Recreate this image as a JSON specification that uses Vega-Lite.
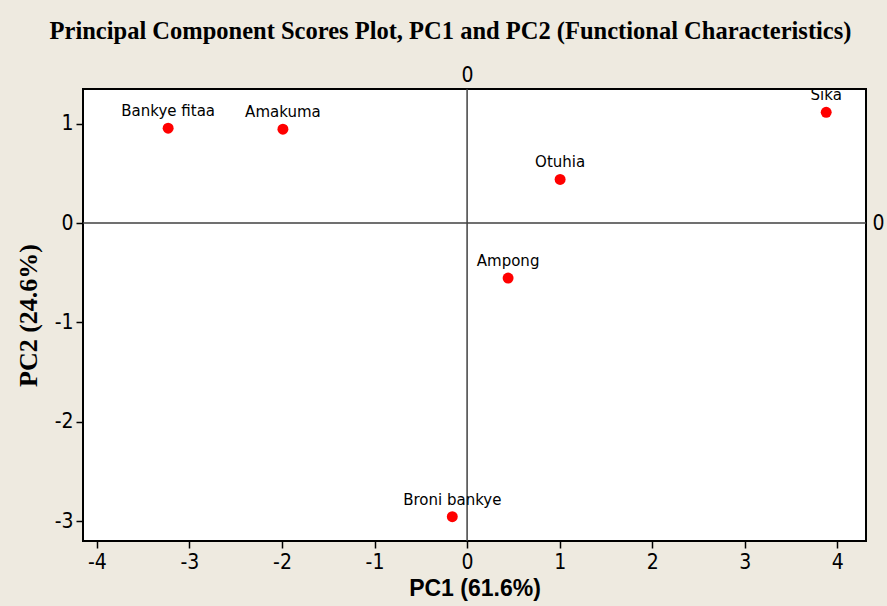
{
  "$schema": "https://vega.github.io/schema/vega-lite/v6.json",
  "width": 783,
  "height": 452,
  "autosize": {"type": "none"},
  "padding": {"left": 83, "top": 89, "right": 21, "bottom": 65},
  "background": "#EEEAE0",
  "title": {
    "text": "Principal Component Scores Plot, PC1 and PC2 (Functional Characteristics)",
    "font": "Liberation Serif",
    "fontSize": 24.5,
    "fontWeight": "bold",
    "color": "black",
    "anchor": "middle",
    "dx": -24,
    "offset": 20
  },
  "config": {
    "view": {"fill": "white", "stroke": "black", "strokeWidth": 2},
    "axis": {
      "domain": false,
      "grid": false,
      "tickColor": "black",
      "tickWidth": 1.5,
      "tickSize": 7,
      "labelFont": "DejaVu Sans Condensed",
      "labelFontSize": 21,
      "labelColor": "black",
      "labelPadding": 3,
      "titleColor": "black",
      "labelExpr": "replace(datum.label, '\u2212', '-')"
    }
  },
  "datasets": {
    "scores": [
      {"name": "Bankye fitaa", "pc1": -3.23, "pc2": 0.955},
      {"name": "Amakuma", "pc1": -1.99, "pc2": 0.945},
      {"name": "Sika", "pc1": 3.88, "pc2": 1.115},
      {"name": "Otuhia", "pc1": 1.005, "pc2": 0.44},
      {"name": "Ampong", "pc1": 0.443, "pc2": -0.553},
      {"name": "Broni bankye", "pc1": -0.16, "pc2": -2.955}
    ],
    "zero": [{"z": 0}]
  },
  "resolve": {"axis": {"x": "independent", "y": "independent"}},
  "layer": [
    {
      "data": {"name": "zero"},
      "mark": {"type": "rule", "color": "#404040", "strokeWidth": 1.5},
      "encoding": {
        "x": {
          "field": "z", "type": "quantitative",
          "scale": {"domain": [-4.15, 4.31], "nice": false, "zero": false},
          "axis": {"orient": "top", "values": [0], "ticks": false, "labelPadding": 4, "title": null}
        }
      }
    },
    {
      "data": {"name": "zero"},
      "mark": {"type": "rule", "color": "#404040", "strokeWidth": 1.5},
      "encoding": {
        "y": {
          "field": "z", "type": "quantitative",
          "scale": {"domain": [-3.2, 1.35], "nice": false, "zero": false},
          "axis": {"orient": "right", "values": [0], "ticks": false, "labelPadding": 6, "title": null}
        }
      }
    },
    {
      "data": {"name": "scores"},
      "mark": {"type": "circle", "color": "#FF0000", "opacity": 1, "size": 120},
      "encoding": {
        "x": {
          "field": "pc1", "type": "quantitative",
          "scale": {"domain": [-4.15, 4.31], "nice": false, "zero": false},
          "axis": {"values": [-4, -3, -2, -1, 0, 1, 2, 3, 4], "format": "d", "title": "PC1 (61.6%)", "titleFont": "Liberation Sans", "titleFontSize": 23, "titleFontWeight": "bold", "titlePadding": 5}
        },
        "y": {
          "field": "pc2", "type": "quantitative",
          "scale": {"domain": [-3.2, 1.35], "nice": false, "zero": false},
          "axis": {"values": [-3, -2, -1, 0, 1], "format": "d", "title": "PC2 (24.6%)", "titleFont": "Liberation Serif", "titleFontSize": 26, "titleFontWeight": "bold", "titlePadding": 13}
        }
      }
    },
    {
      "data": {"name": "scores"},
      "mark": {"type": "text", "font": "DejaVu Sans", "fontSize": 15, "color": "black", "baseline": "bottom", "dy": -9},
      "encoding": {
        "x": {"field": "pc1", "type": "quantitative", "axis": null},
        "y": {"field": "pc2", "type": "quantitative", "axis": null},
        "text": {"field": "name"}
      }
    }
  ]
}
